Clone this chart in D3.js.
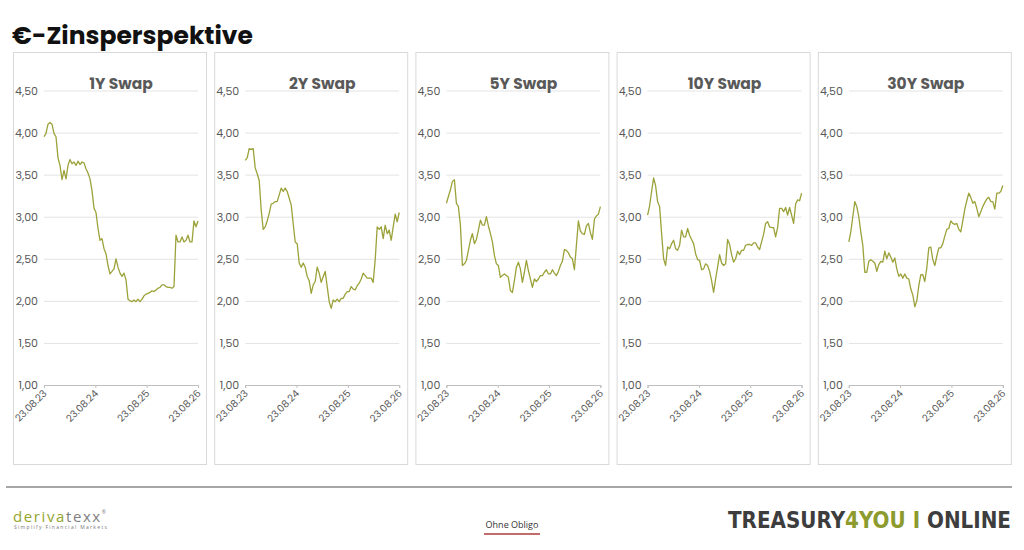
<!DOCTYPE html>
<html>
<head>
<meta charset="utf-8">
<script src="https://cdn.jsdelivr.net/npm/d3@7"></script>
<style>
  body { margin: 0; background: #fff; }
  svg { display: block; }
</style>
</head>
<body>
<div id="chart"></div>
<script>
// panel titles and axis labels
var tenors = ["1Y Swap", "2Y Swap", "5Y Swap", "10Y Swap", "30Y Swap"];
var dateLabels = ["23.08.23", "23.08.24", "23.08.25", "23.08.26"];
var yTicks = [1.00, 1.50, 2.00, 2.50, 3.00, 3.50, 4.00, 4.50];

// swap rates in % (even steps over the 3 years)
var swap1y = [3.95,3.99,4.10,4.12,4.10,3.99,3.95,3.70,3.61,3.44,3.55,3.45,3.61,3.68,3.63,3.65,3.61,3.66,3.62,3.65,
  3.64,3.57,3.52,3.45,3.31,3.10,3.05,2.86,2.72,2.74,2.62,2.56,2.42,2.32,2.35,2.38,2.50,2.40,2.33,2.29,
  2.33,2.25,2.02,2.00,1.99,2.01,1.99,2.02,1.99,2.02,2.06,2.08,2.09,2.10,2.12,2.11,2.13,2.15,2.16,2.19,
  2.19,2.17,2.16,2.16,2.15,2.17,2.78,2.70,2.70,2.76,2.70,2.72,2.78,2.70,2.70,2.95,2.88,2.95];
var swap2y = [3.67,3.70,3.81,3.80,3.81,3.58,3.51,3.43,3.08,2.85,2.88,2.95,3.04,3.15,3.16,3.18,3.18,3.26,3.34,3.30,
  3.34,3.30,3.22,3.14,2.92,2.70,2.68,2.45,2.40,2.45,2.40,2.29,2.24,2.09,2.19,2.23,2.40,2.33,2.22,2.29,
  2.35,2.17,1.99,1.91,2.01,1.99,2.02,1.99,2.03,2.03,2.08,2.11,2.11,2.17,2.14,2.13,2.18,2.21,2.26,2.33,
  2.30,2.27,2.27,2.27,2.22,2.49,2.88,2.85,2.88,2.74,2.90,2.80,2.84,2.72,2.88,3.03,2.94,3.05];
var swap5y = [3.16,3.24,3.32,3.42,3.44,3.16,3.12,2.90,2.42,2.44,2.48,2.60,2.72,2.80,2.68,2.73,2.84,2.96,2.90,2.90,
  3.00,2.89,2.80,2.70,2.54,2.44,2.42,2.28,2.30,2.32,2.30,2.28,2.12,2.10,2.24,2.40,2.46,2.38,2.22,2.34,
  2.48,2.36,2.26,2.16,2.26,2.23,2.26,2.30,2.30,2.34,2.37,2.32,2.32,2.37,2.33,2.30,2.35,2.42,2.47,2.61,
  2.60,2.57,2.52,2.50,2.37,2.66,2.95,2.83,2.80,2.79,2.89,2.92,2.81,2.73,2.97,3.01,3.03,3.12];
var swap10y = [3.02,3.13,3.30,3.46,3.37,3.18,3.12,2.80,2.50,2.42,2.64,2.62,2.68,2.72,2.62,2.60,2.66,2.84,2.76,2.76,
  2.86,2.78,2.73,2.68,2.56,2.49,2.48,2.37,2.38,2.44,2.42,2.35,2.24,2.10,2.26,2.40,2.55,2.45,2.42,2.44,
  2.73,2.67,2.55,2.46,2.50,2.59,2.55,2.60,2.60,2.66,2.67,2.67,2.66,2.69,2.69,2.64,2.61,2.70,2.79,2.92,
  2.94,2.88,2.87,2.87,2.76,2.87,3.10,3.10,3.06,3.11,3.02,3.11,3.02,2.92,3.15,3.20,3.19,3.28];
var swap30y = [2.70,2.82,3.00,3.18,3.12,3.00,2.82,2.66,2.34,2.34,2.47,2.49,2.47,2.45,2.35,2.43,2.47,2.46,2.59,2.50,
  2.57,2.52,2.46,2.51,2.38,2.29,2.32,2.27,2.32,2.27,2.26,2.14,2.07,1.93,2.00,2.18,2.31,2.31,2.23,2.39,
  2.63,2.64,2.49,2.42,2.53,2.63,2.63,2.68,2.77,2.85,2.86,2.95,2.92,2.91,2.92,2.85,2.82,2.95,3.09,3.19,
  3.28,3.23,3.16,3.18,3.10,3.00,3.06,3.12,3.17,3.21,3.23,3.18,3.18,3.09,3.28,3.28,3.30,3.37];

var seriesList = [swap1y, swap2y, swap5y, swap10y, swap30y];

var svgWidth = 1024;
var svgHeight = 550;

// panel box and inner plot margins
var panelW = 193, panelH = 412, panelStep = 201.2;
var margin = ({top: 38.5, right: 8, bottom: 79, left: 31});
var plotW = panelW - margin.left - margin.right;
var plotH = panelH - margin.top - margin.bottom;

var lineColor = "#9ca23a";
var textGrey = "#595959";
var fontStack = "Poppins, 'Noto Sans', 'Open Sans', sans-serif";

var svg = d3.select("#chart")
    .append("svg")
    .attr("width", svgWidth)
    .attr("height", svgHeight)
    .style("font-family", fontStack);

svg.append("text")
    .attr("x", 12)
    .attr("y", 44)
    .attr("font-size", 25)
    .attr("font-weight", 700)
    .attr("fill", "#111")
    .text("€-Zinsperspektive");

var yScale = d3.scaleLinear()
    .domain([1, 4.5])
    .range([plotH, 0]);

var fmt = function(d) { return d.toFixed(2).replace(".", ","); };

seriesList.forEach(function(values, k) {
    var n = values.length;
    var xScale = d3.scaleLinear()
        .domain([0, n - 1])
        .range([0, plotW]);

    var panel = svg.append("g")
        .attr("transform", "translate(" + (13 + k * panelStep) + ",52)");

    panel.append("rect")
        .attr("x", 0.5)
        .attr("y", 0.5)
        .attr("width", panelW)
        .attr("height", panelH)
        .attr("fill", "none")
        .attr("stroke", "#d9d9d9");

    var plot = panel.append("g")
        .attr("transform", "translate(" + margin.left + "," + margin.top + ")");

    // grid + y labels
    var yAxis = plot.append("g")
        .call(d3.axisLeft(yScale).tickValues(yTicks).tickFormat(fmt).tickSize(-plotW).tickPadding(6));
    yAxis.select(".domain").remove();
    yAxis.selectAll(".tick line").attr("stroke", "#e3e3e3");
    yAxis.selectAll(".tick text")
        .attr("fill", textGrey)
        .attr("font-size", 11)
        .attr("font-family", fontStack);

    // date axis
    var tickIdx = dateLabels.map(function(d, i) { return i * (n - 1) / (dateLabels.length - 1); });
    var xAxis = plot.append("g")
        .attr("transform", "translate(0," + plotH + ")")
        .call(d3.axisBottom(xScale).tickValues(tickIdx).tickSize(3)
            .tickFormat(function(d, i) { return dateLabels[i]; }));
    xAxis.select(".domain").attr("stroke", "#bfbfbf");
    xAxis.selectAll(".tick line").attr("stroke", "#bfbfbf");
    xAxis.selectAll(".tick text")
        .attr("fill", textGrey)
        .attr("font-size", 10)
        .attr("font-family", fontStack)
        .attr("text-anchor", "end")
        .attr("dy", null)
        .attr("y", 0)
        .attr("transform", "translate(3,9) rotate(-45)");

    var line = d3.line()
        .x(function(d, i) { return xScale(i); })
        .y(function(d) { return yScale(d); });

    plot.append("path")
        .datum(values)
        .attr("fill", "none")
        .attr("stroke", lineColor)
        .attr("stroke-width", 1.3)
        .attr("stroke-linejoin", "round")
        .attr("d", line);

    plot.append("text")
        .attr("x", plotW / 2)
        .attr("y", -2)
        .attr("text-anchor", "middle")
        .attr("font-size", 15.5)
        .attr("font-weight", 700)
        .attr("fill", textGrey)
        .text(tenors[k]);
});

// footer
svg.append("line")
    .attr("x1", 6).attr("x2", 1012)
    .attr("y1", 487).attr("y2", 487)
    .attr("stroke", "#a6a6a6")
    .attr("stroke-width", 2);

var logo = svg.append("text")
    .attr("x", 13)
    .attr("y", 522)
    .attr("font-size", 15)
    .attr("font-family", "'Open Sans', sans-serif")
    .attr("letter-spacing", 1.6);
logo.append("tspan").attr("fill", "#95a52e").text("deriva");
logo.append("tspan").attr("fill", "#7f7f7f").text("texx");
logo.append("tspan").attr("fill", "#7f7f7f").attr("font-size", 5).attr("dy", -8).text("®");

svg.append("text")
    .attr("x", 14)
    .attr("y", 529)
    .attr("font-size", 5)
    .attr("letter-spacing", 1.3)
    .attr("fill", "#777")
    .attr("font-family", "'Open Sans', sans-serif")
    .text("Simplify Financial Markets");

svg.append("text")
    .attr("x", 512)
    .attr("y", 528)
    .attr("text-anchor", "middle")
    .attr("font-size", 9)
    .attr("fill", "#333")
    .attr("font-family", "'Open Sans', sans-serif")
    .text("Ohne Obligo");

svg.append("line")
    .attr("x1", 484).attr("x2", 540)
    .attr("y1", 534).attr("y2", 534)
    .attr("stroke", "#b03a3a")
    .attr("stroke-width", 1.5);

var brand = svg.append("text")
    .attr("x", 1011)
    .attr("y", 528)
    .attr("text-anchor", "end")
    .attr("font-size", 23)
    .attr("font-weight", 700)
    .attr("font-family", "'DejaVu Sans Condensed', 'Liberation Sans Narrow', Roboto, sans-serif")
    .attr("font-stretch", "condensed")
    .attr("textLength", 283)
    .attr("lengthAdjust", "spacingAndGlyphs");
brand.append("tspan").attr("fill", "#3d3d3d").text("TREASURY");
brand.append("tspan").attr("fill", "#8d9b2e").text("4YOU I ");
brand.append("tspan").attr("fill", "#3d3d3d").text("ONLINE");
</script>
</body>
</html>
